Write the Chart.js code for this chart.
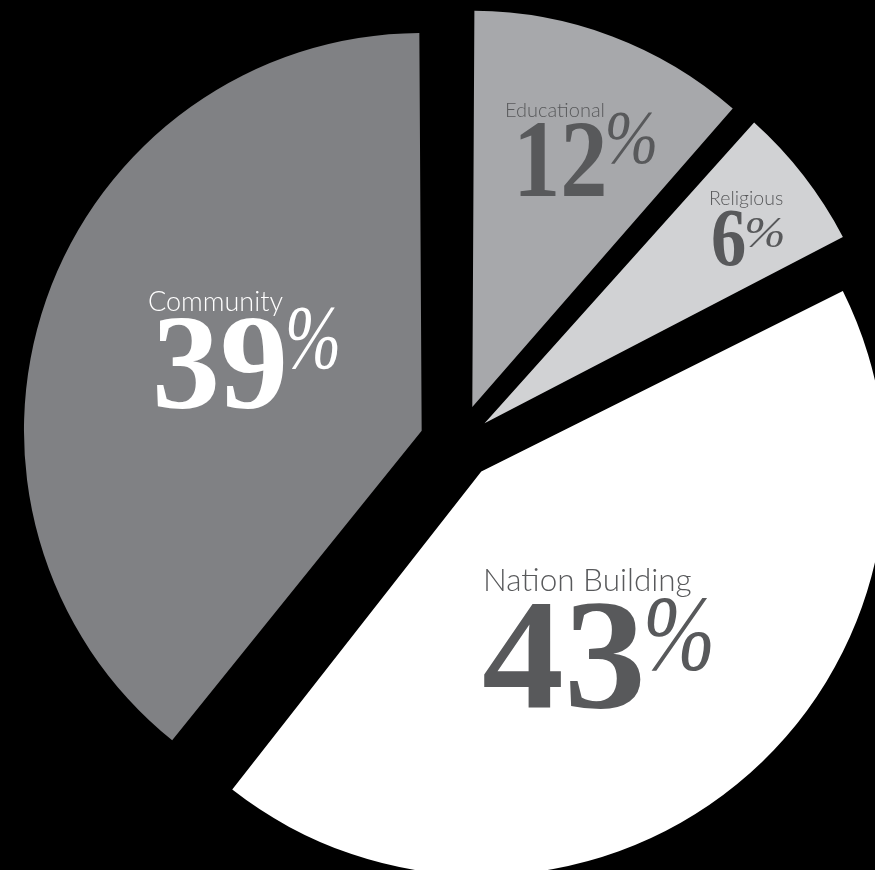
<!DOCTYPE html>
<html>
<head>
<meta charset="UTF-8">
<title>Giving by Sector</title>
<script src="https://cdn.jsdelivr.net/npm/chart.js"></script>
<style>
    html, body {
        margin: 0;
        padding: 0;
        background: #000;
    }
    #wrap {
        width: 875px;
        height: 870px;
        overflow: hidden;
    }
    canvas { display: block; }
</style>
</head>
<body>
<div id="wrap">
    <canvas id="sectorChart" width="875" height="870"></canvas>
</div>

<script>
    // data, clockwise from 12 o'clock (slice sizes, labels are rounded)
    var categories = ['Educational', 'Religious', 'Nation Building', 'Community'];
    var shares = [11.5, 6, 43.2, 39.3];
    var sliceColors = ['#a7a8ab', '#d1d2d4', '#ffffff', '#808184'];
    var textColors = ['#58595b', '#58595b', '#58595b', '#ffffff'];
    // explode distance per slice (chart.js divides offset by 4)
    var sliceOffsets = [156, 132, 144, 156];

    // label layout per slice
    var nameLayout = [   // x, baseline, size
        [505, 117, 20],
        [709, 205, 19.5],
        [483, 591, 31.5],
        [148, 311, 27]
    ];
    var numLayout = [    // x, baseline, size, x-scale
        [513, 196, 110, 0.86],
        [711, 265, 82, 0.86],
        [482, 707, 156, 1.05],
        [152, 408, 136, 1.0]
    ];
    var pctLayout = [    // kern after number, baseline, size, x-scale
        [-3, 163, 76, 0.85],
        [-2, 247, 45, 1.1],
        [-3, 670, 109, 0.8],
        [-3, 368, 91, 0.74]
    ];

    var sansFont = 'Lato, "Open Sans", sans-serif';
    var serifFont = '"Liberation Serif", "DejaVu Serif", serif';

    function drawScaled(ctx, text, x, y, sx) {
        ctx.save();
        ctx.translate(x, y);
        ctx.scale(sx, 1);
        ctx.fillText(text, 0, 0);
        ctx.restore();
    }

    var sliceLabels = {
        id: 'sliceLabels',
        afterDatasetsDraw: function(chart) {
            var ctx = chart.ctx;
            ctx.save();
            ctx.textAlign = 'left';
            ctx.textBaseline = 'alphabetic';
            for (var i = 0; i < categories.length; i++) {
                var n = nameLayout[i], v = numLayout[i], p = pctLayout[i];
                ctx.fillStyle = textColors[i];

                ctx.font = '300 ' + n[2] + 'px ' + sansFont;
                ctx.fillText(categories[i], n[0], n[1]);

                var num = String(Math.round(shares[i]));
                ctx.font = 'bold ' + v[2] + 'px ' + serifFont;
                var numEnd = v[0] + ctx.measureText(num).width * v[3];
                drawScaled(ctx, num, v[0], v[1], v[3]);

                ctx.font = 'italic ' + p[2] + 'px ' + serifFont;
                drawScaled(ctx, '%', numEnd + p[0], p[1], p[3]);
            }
            ctx.restore();
        }
    };

    var ctx = document.getElementById('sectorChart').getContext('2d');
    var sectorChart = new Chart(ctx, {
        type: 'pie',
        data: {
            labels: categories,
            datasets: [{
                data: shares,
                backgroundColor: sliceColors,
                borderWidth: 0,
                offset: sliceOffsets
            }]
        },
        options: {
            responsive: false,
            animation: false,
            radius: 383,
            layout: {
                padding: { left: 42, top: 17, right: 0, bottom: 0 }
            },
            plugins: {
                legend: { display: false },
                tooltip: { enabled: false }
            },
            events: []
        },
        plugins: [sliceLabels]
    });
</script>
</body>
</html>
